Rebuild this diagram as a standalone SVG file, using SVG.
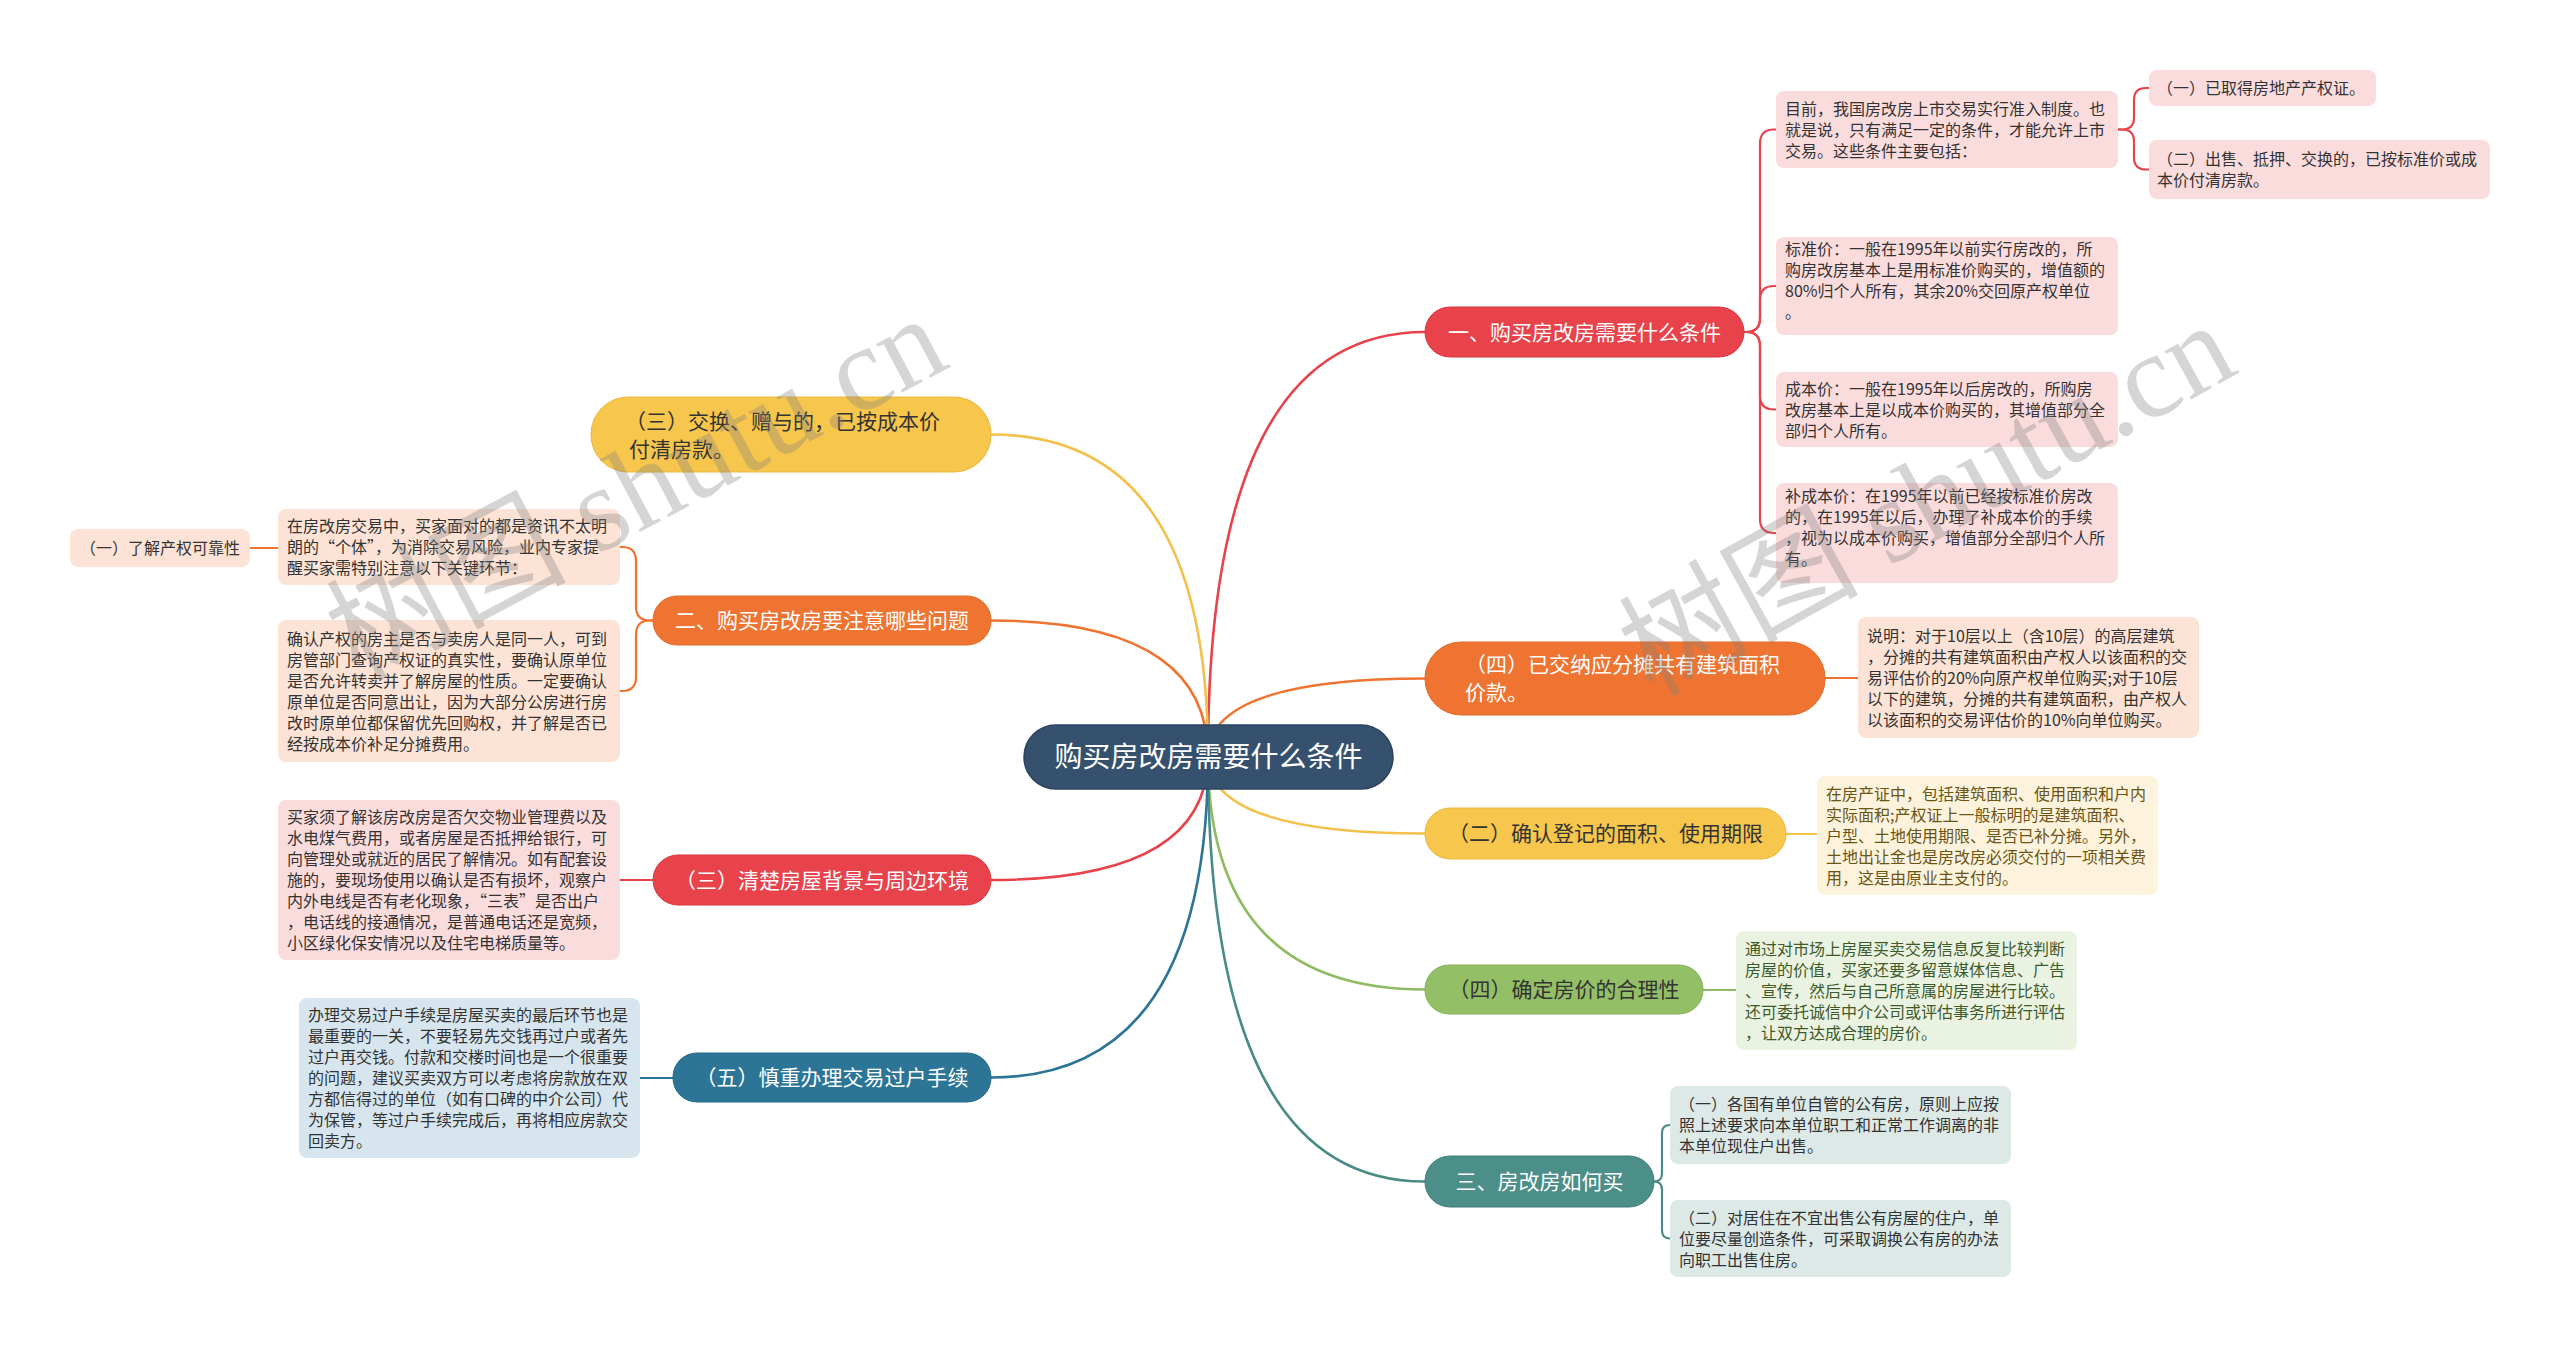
<svg xmlns="http://www.w3.org/2000/svg" width="2560" height="1349" viewBox="0 0 2560 1349">
<style>
text{font-family:"Noto Sans CJK SC","Noto Sans",sans-serif;}
.root{font-size:28px;fill:#fff;text-anchor:middle;}
.br{font-size:21px;text-anchor:middle;}
.brl{font-size:21px;}
.lf{font-size:16px;fill:#333;}
.w{fill:#fff;}
.d{fill:#333;}
.wm{font-family:"Liberation Serif","Noto Sans CJK SC",serif;font-size:120px;fill:#808080;fill-opacity:0.33;}
.c{fill:none;stroke-width:2.6;stroke-linecap:round;}
.cl{fill:none;stroke-width:2.2;stroke-linecap:round;}
</style>
<rect width="2560" height="1349" fill="#fff"/>
<g id="connectors">
<path class="c" stroke="#e8434b" d="M1208,756 Q1208,332 1425,332"/>
<path class="c" stroke="#ef7431" d="M1208,756 Q1208,678.5 1425,678.5"/>
<path class="c" stroke="#f3c14b" d="M1208,756 Q1208,833.5 1425,833.5"/>
<path class="c" stroke="#8fbb62" d="M1208,756 Q1208,989.5 1425,989.5"/>
<path class="c" stroke="#4b8b86" d="M1208,756 Q1208,1181.5 1425,1181.5"/>
<path class="c" stroke="#f3c14b" d="M1208,756 Q1208,434.5 991,434.5"/>
<path class="c" stroke="#ef7431" d="M1208,756 Q1208,620.5 991,620.5"/>
<path class="c" stroke="#e8434b" d="M1208,756 Q1208,880 991,880"/>
<path class="c" stroke="#2c7597" d="M1208,756 Q1208,1077.5 991,1077.5"/>
<path class="cl" stroke="#e8434b" d="M1744,332 H1746 Q1760,332 1760,318 V143.5 Q1760,129.5 1774,129.5 H1776"/>
<path class="cl" stroke="#e8434b" d="M1744,332 H1746 Q1760,332 1760,318 V300 Q1760,286 1774,286 H1776"/>
<path class="cl" stroke="#e8434b" d="M1744,332 H1746 Q1760,332 1760,346 V395.5 Q1760,409.5 1774,409.5 H1776"/>
<path class="cl" stroke="#e8434b" d="M1744,332 H1746 Q1760,332 1760,346 V519 Q1760,533 1774,533 H1776"/>
<path class="cl" stroke="#e8434b" d="M2118,129.5 H2122 Q2134,129.5 2134,117.5 V100 Q2134,88 2146,88 H2149"/>
<path class="cl" stroke="#e8434b" d="M2118,129.5 H2122 Q2134,129.5 2134,141.5 V157.5 Q2134,169.5 2146,169.5 H2149"/>
<path class="cl" stroke="#ef7431" d="M1825,678 H1858"/>
<path class="cl" stroke="#f3c14b" d="M1786,834 H1817"/>
<path class="cl" stroke="#8fbb62" d="M1703,990 H1736"/>
<path class="cl" stroke="#4b8b86" d="M1654,1181.5 Q1662,1181.5 1662,1173.5 V1133 Q1662,1125 1670,1125"/>
<path class="cl" stroke="#4b8b86" d="M1654,1181.5 Q1662,1181.5 1662,1189.5 V1230.5 Q1662,1238.5 1670,1238.5"/>
<path class="cl" stroke="#ef7431" d="M653,620.5 H650 Q636,620.5 636,606.5 V561 Q636,547 622,547 H620"/>
<path class="cl" stroke="#ef7431" d="M653,620.5 H650 Q636,620.5 636,634.5 V677 Q636,691 622,691 H620"/>
<path class="cl" stroke="#ef7431" d="M250,548 H278"/>
<path class="cl" stroke="#e8434b" d="M620,880 H653"/>
<path class="cl" stroke="#2c7597" d="M640,1078 H673"/>
</g>
<g id="root">
<rect x="1024" y="725" width="369" height="64" rx="32" fill="#36516d" stroke="#2b4360" stroke-width="1.5"/>
<text class="root" x="1208.5" y="767">购买房改房需要什么条件</text>
</g>
<g id="b1"><rect x="1425" y="307" width="319" height="50" rx="25" fill="#e8434b" stroke="#d7363e"/><text class="br w" x="1584.5" y="339.5">一、购买房改房需要什么条件</text></g>
<g id="b2"><rect x="1425" y="642" width="400" height="73" rx="36" fill="#ef7431" stroke="#e06a28"/><text class="brl w" x="1465" y="672">（四）已交纳应分摊共有建筑面积<tspan x="1465" y="700">价款。</tspan></text></g>
<g id="b3"><rect x="1425" y="808" width="361" height="51" rx="25" fill="#f7c64d" stroke="#eab83e"/><text class="br d" x="1605.5" y="841">（二）确认登记的面积、使用期限</text></g>
<g id="b4"><rect x="1425" y="965" width="278" height="49" rx="24" fill="#93bf66" stroke="#85b157"/><text class="br d" x="1564" y="997">（四）确定房价的合理性</text></g>
<g id="b5"><rect x="1425" y="1156" width="229" height="51" rx="25" fill="#4c8e88" stroke="#417f79"/><text class="br w" x="1539.5" y="1189">三、房改房如何买</text></g>
<g id="b6"><rect x="591" y="397" width="400" height="75" rx="37" fill="#f7c64d" stroke="#eab83e"/><text class="brl d" x="625" y="429">（三）交换、赠与的，已按成本价<tspan x="629" y="457">付清房款。</tspan></text></g>
<g id="b7"><rect x="653" y="596" width="338" height="49" rx="24" fill="#ef7431" stroke="#e06a28"/><text class="br w" x="822" y="628">二、购买房改房要注意哪些问题</text></g>
<g id="b8"><rect x="653" y="855" width="338" height="50" rx="25" fill="#e8434b" stroke="#d7363e"/><text class="br w" x="822" y="887.5">（三）清楚房屋背景与周边环境</text></g>
<g id="b9"><rect x="673" y="1053" width="318" height="49" rx="24" fill="#2c7597" stroke="#236886"/><text class="br w" x="832" y="1085">（五）慎重办理交易过户手续</text></g>
<g id="la"><rect x="1776" y="91" width="342" height="77" rx="8" fill="#fbdcdd"/><text class="lf" x="1785" y="114.5">目前，我国房改房上市交易实行准入制度。也<tspan x="1785" y="135.5">就是说，只有满足一定的条件，才能允许上市</tspan><tspan x="1785" y="156.5">交易。这些条件主要包括：</tspan></text></g>
<g id="lb"><rect x="2149" y="70" width="227" height="36" rx="8" fill="#fbdcdd"/><text class="lf" x="2157" y="94">（一）已取得房地产产权证。</text></g>
<g id="lc"><rect x="2149" y="140" width="341" height="59" rx="8" fill="#fbdcdd"/><text class="lf" x="2157" y="165">（二）出售、抵押、交换的，已按标准价或成<tspan x="2157" y="186">本价付清房款。</tspan></text></g>
<g id="ld"><rect x="1776" y="237" width="342" height="98" rx="8" fill="#fbdcdd"/><text class="lf" x="1785" y="254.5">标准价：一般在1995年以前实行房改的，所<tspan x="1785" y="275.5">购房改房基本上是用标准价购买的，增值额的</tspan><tspan x="1785" y="296.5">80%归个人所有，其余20%交回原产权单位</tspan><tspan x="1785" y="317.5">。</tspan></text></g>
<g id="le"><rect x="1776" y="372" width="342" height="75" rx="8" fill="#fbdcdd"/><text class="lf" x="1785" y="394.5">成本价：一般在1995年以后房改的，所购房<tspan x="1785" y="415.5">改房基本上是以成本价购买的，其增值部分全</tspan><tspan x="1785" y="436.5">部归个人所有。</tspan></text></g>
<g id="lf"><rect x="1776" y="483" width="342" height="100" rx="8" fill="#fbdcdd"/><text class="lf" x="1785" y="501.5">补成本价：在1995年以前已经按标准价房改<tspan x="1785" y="522.5">的，在1995年以后，办理了补成本价的手续</tspan><tspan x="1785" y="543.5">，视为以成本价购买，增值部分全部归个人所</tspan><tspan x="1785" y="564.5">有。</tspan></text></g>
<g id="lg"><rect x="1858" y="617" width="341" height="121" rx="8" fill="#fce3d5"/><text class="lf" x="1867" y="641.5">说明：对于10层以上（含10层）的高层建筑<tspan x="1867" y="662.5">，分摊的共有建筑面积由产权人以该面积的交</tspan><tspan x="1867" y="683.5">易评估价的20%向原产权单位购买;对于10层</tspan><tspan x="1867" y="704.5">以下的建筑，分摊的共有建筑面积，由产权人</tspan><tspan x="1867" y="725.5">以该面积的交易评估价的10%向单位购买。</tspan></text></g>
<g id="lh"><rect x="1817" y="776" width="341" height="119" rx="8" fill="#fdf3dc"/><text class="lf" x="1826" y="799.5" style="fill:#6b5515">在房产证中，包括建筑面积、使用面积和户内<tspan x="1826" y="820.5">实际面积;产权证上一般标明的是建筑面积、</tspan><tspan x="1826" y="841.5">户型、土地使用期限、是否已补分摊。另外，</tspan><tspan x="1826" y="862.5">土地出让金也是房改房必须交付的一项相关费</tspan><tspan x="1826" y="883.5">用，这是由原业主支付的。</tspan></text></g>
<g id="li"><rect x="1736" y="931" width="341" height="119" rx="8" fill="#eaf2e1"/><text class="lf" x="1745" y="954.5" style="fill:#3f5a2a">通过对市场上房屋买卖交易信息反复比较判断<tspan x="1745" y="975.5">房屋的价值，买家还要多留意媒体信息、广告</tspan><tspan x="1745" y="996.5">、宣传，然后与自己所意属的房屋进行比较。</tspan><tspan x="1745" y="1017.5">还可委托诚信中介公司或评估事务所进行评估</tspan><tspan x="1745" y="1038.5">，让双方达成合理的房价。</tspan></text></g>
<g id="lj"><rect x="1670" y="1086" width="341" height="78" rx="8" fill="#dce9e7"/><text class="lf" x="1679" y="1110">（一）各国有单位自管的公有房，原则上应按<tspan x="1679" y="1131">照上述要求向本单位职工和正常工作调离的非</tspan><tspan x="1679" y="1152">本单位现住户出售。</tspan></text></g>
<g id="lk"><rect x="1670" y="1200" width="341" height="77" rx="8" fill="#dce9e7"/><text class="lf" x="1679" y="1223.5">（二）对居住在不宜出售公有房屋的住户，单<tspan x="1679" y="1244.5">位要尽量创造条件，可采取调换公有房的办法</tspan><tspan x="1679" y="1265.5">向职工出售住房。</tspan></text></g>
<g id="ll"><rect x="70" y="529" width="180" height="38" rx="8" fill="#fce3d5"/><text class="lf" x="80" y="554">（一）了解产权可靠性</text></g>
<g id="lm"><rect x="278" y="509" width="342" height="76" rx="8" fill="#fce3d5"/><text class="lf" x="287" y="532">在房改房交易中，买家面对的都是资讯不太明<tspan x="287" y="553">朗的“个体”，为消除交易风险，业内专家提</tspan><tspan x="287" y="574">醒买家需特别注意以下关键环节：</tspan></text></g>
<g id="ln"><rect x="278" y="620" width="342" height="142" rx="8" fill="#fce3d5"/><text class="lf" x="287" y="644.5">确认产权的房主是否与卖房人是同一人，可到<tspan x="287" y="665.5">房管部门查询产权证的真实性，要确认原单位</tspan><tspan x="287" y="686.5">是否允许转卖并了解房屋的性质。一定要确认</tspan><tspan x="287" y="707.5">原单位是否同意出让，因为大部分公房进行房</tspan><tspan x="287" y="728.5">改时原单位都保留优先回购权，并了解是否已</tspan><tspan x="287" y="749.5">经按成本价补足分摊费用。</tspan></text></g>
<g id="lo"><rect x="278" y="800" width="342" height="160" rx="8" fill="#fbdcdd"/><text class="lf" x="287" y="823">买家须了解该房改房是否欠交物业管理费以及<tspan x="287" y="844">水电煤气费用，或者房屋是否抵押给银行，可</tspan><tspan x="287" y="865">向管理处或就近的居民了解情况。如有配套设</tspan><tspan x="287" y="886">施的，要现场使用以确认是否有损坏，观察户</tspan><tspan x="287" y="907">内外电线是否有老化现象，“三表”是否出户</tspan><tspan x="287" y="928">，电话线的接通情况，是普通电话还是宽频，</tspan><tspan x="287" y="949">小区绿化保安情况以及住宅电梯质量等。</tspan></text></g>
<g id="lp"><rect x="299" y="998" width="341" height="160" rx="8" fill="#d7e6ee"/><text class="lf" x="308" y="1021">办理交易过户手续是房屋买卖的最后环节也是<tspan x="308" y="1042">最重要的一关，不要轻易先交钱再过户或者先</tspan><tspan x="308" y="1063">过户再交钱。付款和交楼时间也是一个很重要</tspan><tspan x="308" y="1084">的问题，建议买卖双方可以考虑将房款放在双</tspan><tspan x="308" y="1105">方都信得过的单位（如有口碑的中介公司）代</tspan><tspan x="308" y="1126">为保管，等过户手续完成后，再将相应房款交</tspan><tspan x="308" y="1147">回卖方。</tspan></text></g>
<g id="watermarks">
<text class="wm" transform="translate(358,682) rotate(-28)">树图 shutu.cn</text>
<text class="wm" transform="translate(1652,698) rotate(-29)">树图 shutu.cn</text>
</g>
</svg>
